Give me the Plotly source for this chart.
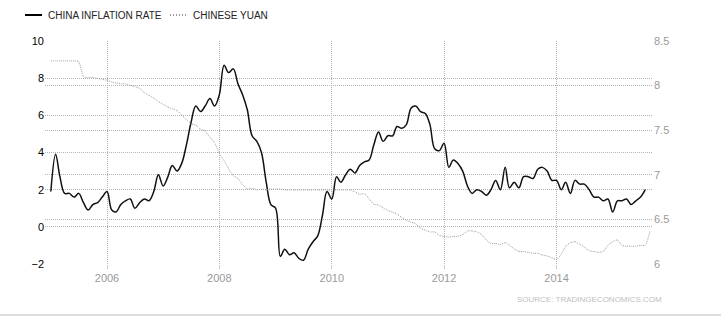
import plotly.graph_objects as go
import pandas as pd

# ---- data ----
inflation_start = "2005-01-01"
inflation = [
    1.9, 3.9, 2.7, 1.8, 1.8, 1.6, 1.8, 1.3, 0.9, 1.2, 1.3, 1.6,   # 2005
    1.9, 0.9, 0.8, 1.2, 1.4, 1.5, 1.0, 1.3, 1.5, 1.4, 1.9, 2.8,   # 2006
    2.2, 2.7, 3.3, 3.0, 3.4, 4.4, 5.6, 6.5, 6.2, 6.5, 6.9, 6.5,   # 2007
    7.1, 8.7, 8.3, 8.5, 7.7, 7.1, 6.3, 4.9, 4.6, 4.0, 2.4, 1.2,   # 2008
    1.0, -1.6, -1.2, -1.5, -1.4, -1.7, -1.8, -1.2, -0.8, -0.5, 0.6, 1.9,  # 2009
    1.5, 2.7, 2.4, 2.8, 3.1, 2.9, 3.3, 3.5, 3.6, 4.4, 5.1, 4.6,   # 2010
    4.9, 4.9, 5.4, 5.3, 5.5, 6.4, 6.5, 6.2, 6.1, 5.5, 4.2, 4.1,   # 2011
    4.5, 3.2, 3.6, 3.4, 3.0, 2.2, 1.8, 2.0, 1.9, 1.7, 2.0, 2.5,   # 2012
    2.0, 3.2, 2.1, 2.4, 2.1, 2.7, 2.7, 2.6, 3.1, 3.2, 3.0, 2.5,   # 2013
    2.5, 2.0, 2.4, 1.8, 2.5, 2.3, 2.3, 2.0, 1.6, 1.6, 1.4, 1.5,   # 2014
    0.8, 1.4, 1.4, 1.5, 1.2, 1.4, 1.6, 2.0,                       # 2015
]

yuan_start = "2005-01-01"
yuan = [
    8.277, 8.277, 8.277, 8.277, 8.277, 8.277, 8.270, 8.10, 8.09, 8.09, 8.08, 8.07,  # 2005
    8.06, 8.04, 8.03, 8.02, 8.02, 8.00, 7.99, 7.97, 7.92, 7.89, 7.86, 7.82,  # 2006
    7.79, 7.76, 7.74, 7.72, 7.67, 7.62, 7.57, 7.56, 7.51, 7.49, 7.42, 7.36,  # 2007
    7.24, 7.16, 7.07, 6.99, 6.96, 6.89, 6.84, 6.85, 6.83, 6.84, 6.83, 6.84,  # 2008
    6.84, 6.84, 6.83, 6.83, 6.83, 6.83, 6.83, 6.83, 6.83, 6.83, 6.83, 6.83,  # 2009
    6.83, 6.83, 6.83, 6.83, 6.83, 6.81, 6.78, 6.79, 6.73, 6.67, 6.66, 6.63,  # 2010
    6.60, 6.58, 6.56, 6.52, 6.49, 6.47, 6.45, 6.40, 6.38, 6.36, 6.36, 6.32,  # 2011
    6.31, 6.30, 6.31, 6.31, 6.33, 6.37, 6.37, 6.36, 6.33, 6.27, 6.23, 6.23,  # 2012
    6.22, 6.24, 6.21, 6.17, 6.14, 6.14, 6.13, 6.12, 6.12, 6.10, 6.09, 6.07,  # 2013
    6.05, 6.11, 6.20, 6.24, 6.25, 6.22, 6.19, 6.15, 6.14, 6.13, 6.14, 6.21,  # 2014
    6.25, 6.27, 6.21, 6.20, 6.20, 6.20, 6.21, 6.21, 6.37,                    # 2015
]

left_ticks = [-2, 0, 2, 4, 6, 8, 10]
right_ticks = [6, 6.5, 7, 7.5, 8, 8.5]
names = ["CHINA INFLATION RATE", "CHINESE YUAN"]
source_text = "SOURCE: TRADINGECONOMICS.COM"

inf_dates = pd.date_range(inflation_start, periods=len(inflation), freq="MS")
yuan_dates = pd.date_range(yuan_start, periods=len(yuan), freq="MS")

FONT = "Arial, Liberation Sans, sans-serif"

fig = go.Figure()
fig.add_trace(go.Scatter(
    x=yuan_dates, y=yuan, name=names[1], yaxis="y2", mode="lines",
    line=dict(color="#a0a0a0", width=1, dash="1px,1px", shape="spline", smoothing=0.5),
))
fig.add_trace(go.Scatter(
    x=inf_dates, y=inflation, name=names[0], mode="lines",
    line=dict(color="#111111", width=1.5, shape="spline", smoothing=1.0),
))

W, H = 721, 319
L, R, T, B = 45, 68, 41, 55
pw, ph = W - L - R, H - T - B

def px(x):
    return (x - L) / pw

def py(y):
    return (H - B - y) / ph

grid = dict(showgrid=True, gridcolor="#b4b4b4", griddash="1px,1px", gridwidth=1)

fig.update_layout(
    width=W, height=H,
    margin=dict(l=L, r=R, t=T, b=B),
    paper_bgcolor="white", plot_bgcolor="white",
    showlegend=False,
    font=dict(family=FONT, size=11, color="#222"),
    xaxis=dict(
        type="date", range=["2004-11-24", "2015-09-20"],
        tick0="2006-01-01", dtick="M24", tickformat="%Y",
        ticks="outside", ticklen=4, tickcolor="#cccccc",
        tickfont=dict(size=11, color="#9a9a9a"),
        showline=False, zeroline=False, **grid,
    ),
    yaxis=dict(
        range=[-2, 10], tickvals=left_ticks, ticks="",
        tickfont=dict(size=11, color="#000000"),
        showline=False, zeroline=False, **grid,
    ),
    yaxis2=dict(
        range=[6, 8.5], tickvals=right_ticks, overlaying="y", side="right",
        tickfont=dict(size=11, color="#9a9a9a"),
        showline=False, zeroline=False, **grid,
    ),
)

# manual legend
ly = py(15)
fig.add_shape(type="line", xref="paper", yref="paper", x0=px(25), x1=px(42), y0=ly, y1=ly,
              line=dict(color="#000000", width=2))
fig.add_annotation(xref="paper", yref="paper", x=px(46), y=ly, text=names[0], showarrow=False,
                   xanchor="left", yanchor="middle", font=dict(size=10, color="#222", family=FONT))
fig.add_shape(type="line", xref="paper", yref="paper", x0=px(170), x1=px(188), y0=ly, y1=ly,
              line=dict(color="#777777", width=1.5, dash="1px,2px"))
fig.add_annotation(xref="paper", yref="paper", x=px(191), y=ly, text=names[1], showarrow=False,
                   xanchor="left", yanchor="middle", font=dict(size=10, color="#222", family=FONT))

# source
fig.add_annotation(xref="paper", yref="paper", x=px(664), y=py(299), text=source_text, showarrow=False,
                   xanchor="right", yanchor="middle", font=dict(size=8, color="#c0c0c0", family=FONT))

# bottom rule
fig.add_shape(type="line", xref="paper", yref="paper", x0=px(0), x1=px(721), y0=py(315), y1=py(315),
              line=dict(color="#dddddd", width=2))

fig.write_html("out.html")
